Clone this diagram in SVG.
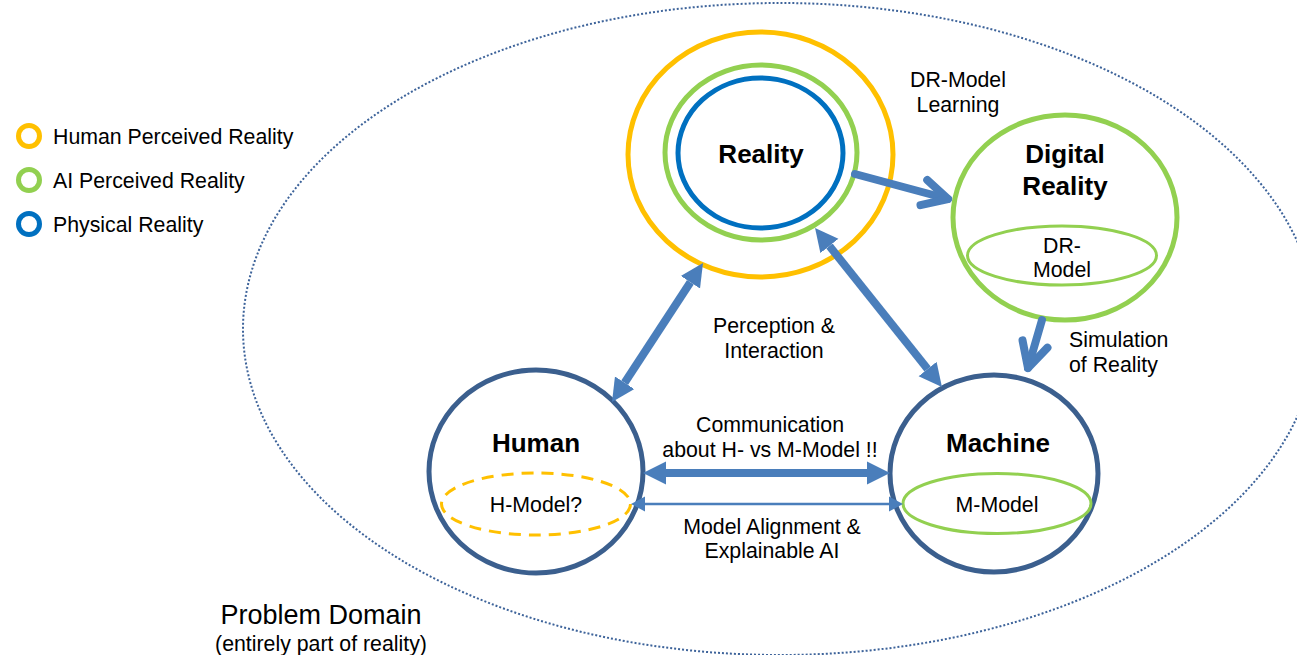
<svg xmlns="http://www.w3.org/2000/svg" width="1297" height="655" viewBox="0 0 1297 655">
<style>
  text { font-family: "Liberation Sans", Arial, sans-serif; fill: #000; }
  .lbl { font-size: 21.3px; }
  .mid { text-anchor: middle; }
  .title { font-size: 26px; font-weight: bold; text-anchor: middle; }
  .node { fill: none; stroke: #3b5f8e; stroke-width: 5; }
  .yel { fill: none; stroke: #ffc000; stroke-width: 5; }
  .grn { fill: none; stroke: #92d050; stroke-width: 5; }
  .blu { fill: none; stroke: #0070c0; stroke-width: 5; }
  .conn { stroke: #4a7ebb; fill: none; }
  .thick { stroke-width: 8; }
  .round { stroke-width: 8; stroke-linecap: round; }
</style>
<defs>
  <marker id="head" viewBox="0 -12 24 24" markerUnits="userSpaceOnUse" markerWidth="24" markerHeight="24" refX="0" refY="0" orient="auto-start-reverse">
    <path d="M0,-11.5 L23,0 L0,11.5 z" fill="#4a7ebb"/>
  </marker>
  <marker id="headSmall" viewBox="0 -8 15 16" markerUnits="userSpaceOnUse" markerWidth="15" markerHeight="16" refX="0" refY="0" orient="auto-start-reverse">
    <path d="M0,-7.5 L14,0 L0,7.5 z" fill="#4a7ebb"/>
  </marker>
  <marker id="chev" viewBox="-32 -18 38 36" markerUnits="userSpaceOnUse" markerWidth="38" markerHeight="36" refX="0" refY="0" orient="auto" overflow="visible">
    <path d="M-25,-13 L0,0 L-25,13" fill="none" stroke="#4a7ebb" stroke-width="8" stroke-linecap="round" stroke-linejoin="round"/>
  </marker>
</defs>

<g id="problem-domain">
  <ellipse cx="780" cy="329" rx="537" ry="326" fill="none" stroke="#3d639a" stroke-width="2" stroke-dasharray="2 2"/>
  <text x="321" y="624" text-anchor="middle" style="font-size:27px">Problem Domain</text>
  <text x="321" y="651" class="lbl mid">(entirely part of reality)</text>
</g>

<g id="legend">
  <circle cx="29" cy="136" r="10.5" class="yel"/>
  <circle cx="29" cy="180" r="10.5" class="grn"/>
  <circle cx="29" cy="224" r="10.5" class="blu"/>
  <text x="53" y="144" class="lbl">Human Perceived Reality</text>
  <text x="53" y="188" class="lbl">AI Perceived Reality</text>
  <text x="53" y="232" class="lbl">Physical Reality</text>
</g>

<g id="reality">
  <ellipse cx="760.5" cy="154.5" rx="132.5" ry="122.5" class="yel"/>
  <ellipse cx="761" cy="152.5" rx="96" ry="87.5" class="grn"/>
  <ellipse cx="760.5" cy="153" rx="82.5" ry="75" class="blu"/>
  <text x="761" y="163" class="title">Reality</text>
</g>

<g id="digital-reality">
  <ellipse cx="1065" cy="217.5" rx="112" ry="102.5" class="grn"/>
  <ellipse cx="1062" cy="255.5" rx="94.5" ry="29.5" fill="none" stroke="#92d050" stroke-width="3"/>
  <text x="1065" y="163" class="title">Digital</text>
  <text x="1065" y="195" class="title">Reality</text>
  <text x="1062" y="253" class="lbl mid">DR-</text>
  <text x="1062" y="277" class="lbl mid">Model</text>
</g>

<g id="human">
  <ellipse cx="536" cy="471.5" rx="107" ry="101.5" class="node"/>
  <ellipse cx="536" cy="504" rx="94.5" ry="31" fill="none" stroke="#ffc000" stroke-width="3" stroke-dasharray="12 8"/>
  <text x="536" y="452" class="title">Human</text>
  <text x="536" y="512" class="lbl mid">H-Model?</text>
</g>

<g id="machine">
  <ellipse cx="994" cy="473.5" rx="104" ry="98.5" class="node"/>
  <ellipse cx="997" cy="503.5" rx="94" ry="30" fill="none" stroke="#92d050" stroke-width="3"/>
  <text x="998" y="452" class="title">Machine</text>
  <text x="997" y="512" class="lbl mid">M-Model</text>
</g>

<g id="connectors">
  <line x1="855" y1="174" x2="948" y2="199" class="conn round" marker-end="url(#chev)"/>
  <line x1="1042" y1="320" x2="1028" y2="368" class="conn round" marker-end="url(#chev)"/>
  <line x1="690.4" y1="282.3" x2="624.6" y2="382.7" class="conn thick" marker-start="url(#head)" marker-end="url(#head)"/>
  <line x1="829.4" y1="246" x2="927.6" y2="369" class="conn thick" marker-start="url(#head)" marker-end="url(#head)"/>
  <line x1="666" y1="473" x2="867" y2="473" class="conn thick" marker-start="url(#head)" marker-end="url(#head)"/>
  <line x1="645" y1="504" x2="889" y2="504" class="conn" stroke-width="2.5" marker-start="url(#headSmall)" marker-end="url(#headSmall)"/>
  <text x="958" y="87" class="lbl mid">DR-Model</text>
  <text x="958" y="112" class="lbl mid">Learning</text>
  <text x="774" y="333" class="lbl mid">Perception &amp;</text>
  <text x="774" y="358" class="lbl mid">Interaction</text>
  <text x="1069" y="347" class="lbl">Simulation</text>
  <text x="1069" y="372" class="lbl">of Reality</text>
  <text x="770" y="432" class="lbl mid">Communication</text>
  <text x="770" y="457" class="lbl mid">about H- vs M-Model !!</text>
  <text x="772" y="534" class="lbl mid">Model Alignment &amp;</text>
  <text x="772" y="558" class="lbl mid">Explainable AI</text>
</g>
</svg>
